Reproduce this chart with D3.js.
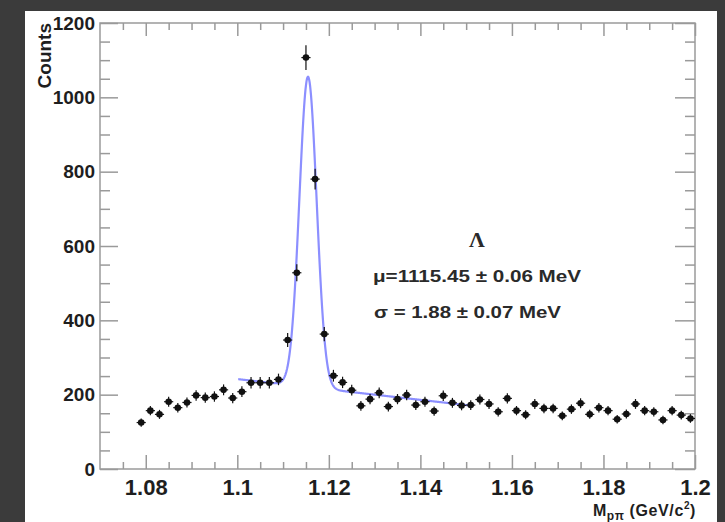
<!DOCTYPE html>
<html lang="en">

<head>
    <meta charset="UTF-8">
    <title>Lambda invariant mass</title>
    <script src="https://d3js.org/d3.v7.min.js"></script>
    <style>
    body {
        margin: 0;
        padding: 0;
        background: #3b3b3b;
    }

    svg {
        display: block;
    }

    .tick line {
        stroke: #9a9a9a;
        stroke-width: 1.5;
    }
    </style>
</head>

<body>
    <svg width="725" height="522"></svg>
    <script>
    const width = 725,
        height = 522;

    // bin centres (GeV/c^2), 2 MeV bins
    const massBins = [
        1.079, 1.081, 1.083, 1.085, 1.087, 1.089, 1.091, 1.093, 1.095, 1.097,
        1.099, 1.101, 1.103, 1.105, 1.107, 1.109, 1.111, 1.113, 1.115, 1.117,
        1.119, 1.121, 1.123, 1.125, 1.127, 1.129, 1.131, 1.133, 1.135, 1.137,
        1.139, 1.141, 1.143, 1.145, 1.147, 1.149, 1.151, 1.153, 1.155, 1.157,
        1.159, 1.161, 1.163, 1.165, 1.167, 1.169, 1.171, 1.173, 1.175, 1.177,
        1.179, 1.181, 1.183, 1.185, 1.187, 1.189, 1.191, 1.193, 1.195, 1.197,
        1.199
    ];

    // counts per bin
    const counts = [
        125, 157, 147, 181, 165, 179, 198, 192, 195, 213,
        191, 208, 232, 232, 232, 241, 347, 528, 1107, 780,
        363, 251, 233, 212, 170, 188, 205, 168, 188, 199,
        172, 181, 156, 197, 178, 171, 172, 187, 175, 154,
        190, 157, 146, 175, 163, 163, 143, 161, 177, 147,
        165, 157, 134, 148, 175, 157, 154, 132, 157, 145,
        136
    ];

    // fit: gaussian + linear background
    const fitMu = 1.11545;
    const fitSigma = 0.00188;
    const fitAmp = 835;
    const fitBg0 = 242; // background at 1.100
    const fitBgSlope = -1400; // counts per GeV
    const fitRange = [1.1002, 1.1515];

    const xTicks = [1.08, 1.1, 1.12, 1.14, 1.16, 1.18, 1.2];
    const xTickLabels = ["1.08", "1.1", "1.12", "1.14", "1.16", "1.18", "1.2"];
    const yTicks = [0, 200, 400, 600, 800, 1000, 1200];
    const yTickLabels = ["0", "200", "400", "600", "800", "1000", "1200"];

    const svg = d3.select("svg");

    // white canvas
    svg.append("rect")
        .attr("x", 25).attr("y", 11)
        .attr("width", 692).attr("height", 520)
        .attr("fill", "#fff");

    const x = d3.scaleLinear().domain([1.07, 1.2]).range([100, 695]);
    const y = d3.scaleLinear().domain([0, 1200]).range([469, 23]);

    const xMinor = d3.range(1.07, 1.2001, 0.005)
        .map(v => +v.toFixed(3))
        .filter(v => v > 1.07 && v < 1.2 && !xTicks.some(t => Math.abs(t - v) < 1e-6));
    const yMinor = d3.range(50, 1200, 50).filter(v => v % 200 !== 0);

    function noDomain(g) {
        g.select(".domain").remove();
    }

    // bottom
    svg.append("g").attr("transform", "translate(0,469)")
        .call(d3.axisBottom(x).tickValues(xMinor).tickSize(-7).tickFormat(""))
        .call(noDomain);
    const xAxis = svg.append("g").attr("transform", "translate(0,469)")
        .call(d3.axisBottom(x).tickValues(xTicks).tickSize(-14)
            .tickFormat((d, i) => xTickLabels[i]))
        .call(noDomain);
    xAxis.selectAll("text")
        .attr("y", 26).attr("dy", null)
        .attr("fill", "#1e1e1e")
        .style("font-family", "'Liberation Sans', Arial, sans-serif")
        .style("font-weight", "bold")
        .style("font-size", "22px");

    // top
    svg.append("g").attr("transform", "translate(0,23)")
        .call(d3.axisTop(x).tickValues(xMinor).tickSize(-7).tickFormat(""))
        .call(noDomain);
    svg.append("g").attr("transform", "translate(0,23)")
        .call(d3.axisTop(x).tickValues(xTicks).tickSize(-13).tickFormat(""))
        .call(noDomain);

    // left
    svg.append("g").attr("transform", "translate(100,0)")
        .call(d3.axisLeft(y).tickValues(yMinor).tickSize(-10).tickFormat(""))
        .call(noDomain);
    const yAxis = svg.append("g").attr("transform", "translate(100,0)")
        .call(d3.axisLeft(y).tickValues(yTicks).tickSize(-18).tickPadding(5)
            .tickFormat((d, i) => yTickLabels[i]))
        .call(noDomain);
    yAxis.selectAll("text")
        .attr("fill", "#1e1e1e")
        .style("font-family", "'Liberation Sans', Arial, sans-serif")
        .style("font-weight", "bold")
        .style("font-size", "19px");

    // right
    svg.append("g").attr("transform", "translate(695,0)")
        .call(d3.axisRight(y).tickValues(yMinor).tickSize(-10).tickFormat(""))
        .call(noDomain);
    svg.append("g").attr("transform", "translate(695,0)")
        .call(d3.axisRight(y).tickValues(yTicks).tickSize(-20).tickFormat(""))
        .call(noDomain);

    // frame
    svg.append("rect")
        .attr("x", x(1.07)).attr("y", y(1200))
        .attr("width", x(1.2) - x(1.07)).attr("height", y(0) - y(1200))
        .attr("fill", "none")
        .attr("stroke", "#9a9a9a")
        .attr("stroke-width", 1.5);

    // fit curve
    const fitFn = m => fitBg0 + fitBgSlope * (m - 1.1) +
        fitAmp * Math.exp(-0.5 * Math.pow((m - fitMu) / fitSigma, 2));
    const fitPts = d3.range(fitRange[0], fitRange[1], 0.0001).concat([fitRange[1]]);
    svg.append("path")
        .datum(fitPts)
        .attr("fill", "none")
        .attr("stroke", "#8c8fff")
        .attr("stroke-width", 2.2)
        .attr("d", d3.line().x(m => x(m)).y(m => y(fitFn(m))));

    // data points with errors
    const data = massBins.map((m, i) => ({ m: m, n: counts[i] }));
    const pts = svg.append("g").selectAll("g")
        .data(data)
        .enter()
        .append("g");

    pts.append("line")
        .attr("x1", d => x(d.m)).attr("x2", d => x(d.m))
        .attr("y1", d => y(d.n - Math.sqrt(d.n)))
        .attr("y2", d => y(d.n + Math.sqrt(d.n)))
        .attr("stroke", "#111").attr("stroke-width", 1.2);

    pts.append("line")
        .attr("x1", d => x(d.m - 0.001)).attr("x2", d => x(d.m + 0.001))
        .attr("y1", d => y(d.n)).attr("y2", d => y(d.n))
        .attr("stroke", "#111").attr("stroke-width", 1.2);

    pts.append("circle")
        .attr("cx", d => x(d.m))
        .attr("cy", d => y(d.n))
        .attr("r", 3.3)
        .attr("fill", "#111");

    // annotations
    svg.append("text")
        .attr("x", 477).attr("y", 247)
        .attr("text-anchor", "middle")
        .style("font-family", "'Liberation Serif', 'Times New Roman', serif")
        .style("font-weight", "bold")
        .style("font-size", "22px")
        .attr("fill", "#2a2a2a")
        .text("Λ");

    svg.append("text")
        .attr("x", 373).attr("y", 282)
        .attr("textLength", 208)
        .attr("lengthAdjust", "spacingAndGlyphs")
        .style("font-family", "'Liberation Sans', Arial, sans-serif")
        .style("font-weight", "bold")
        .style("font-size", "16px")
        .attr("fill", "#2a2a2a")
        .text("μ=1115.45 ± 0.06 MeV");

    svg.append("text")
        .attr("x", 374).attr("y", 318)
        .attr("textLength", 187)
        .attr("lengthAdjust", "spacingAndGlyphs")
        .style("font-family", "'Liberation Sans', Arial, sans-serif")
        .style("font-weight", "bold")
        .style("font-size", "16px")
        .attr("fill", "#2a2a2a")
        .text("σ = 1.88 ± 0.07 MeV");

    // axis titles
    svg.append("text")
        .attr("transform", "translate(51,23) rotate(-90)")
        .attr("text-anchor", "end")
        .style("font-family", "'Liberation Sans', Arial, sans-serif")
        .style("font-weight", "bold")
        .style("font-size", "19px")
        .attr("fill", "#1e1e1e")
        .text("Counts");

    const xTitle = svg.append("text")
        .attr("x", 696).attr("y", 516)
        .attr("text-anchor", "end")
        .style("font-family", "'Liberation Sans', Arial, sans-serif")
        .style("font-weight", "bold")
        .style("font-size", "16px")
        .style("letter-spacing", "0.6px")
        .attr("fill", "#1e1e1e");
    xTitle.append("tspan").text("M");
    xTitle.append("tspan").attr("dy", 4).style("font-size", "12px").text("pπ");
    xTitle.append("tspan").attr("dy", -4).text(" (GeV/c");
    xTitle.append("tspan").attr("dy", -7).style("font-size", "10px").text("2");
    xTitle.append("tspan").attr("dy", 7).text(")");
    </script>
</body>

</html>
